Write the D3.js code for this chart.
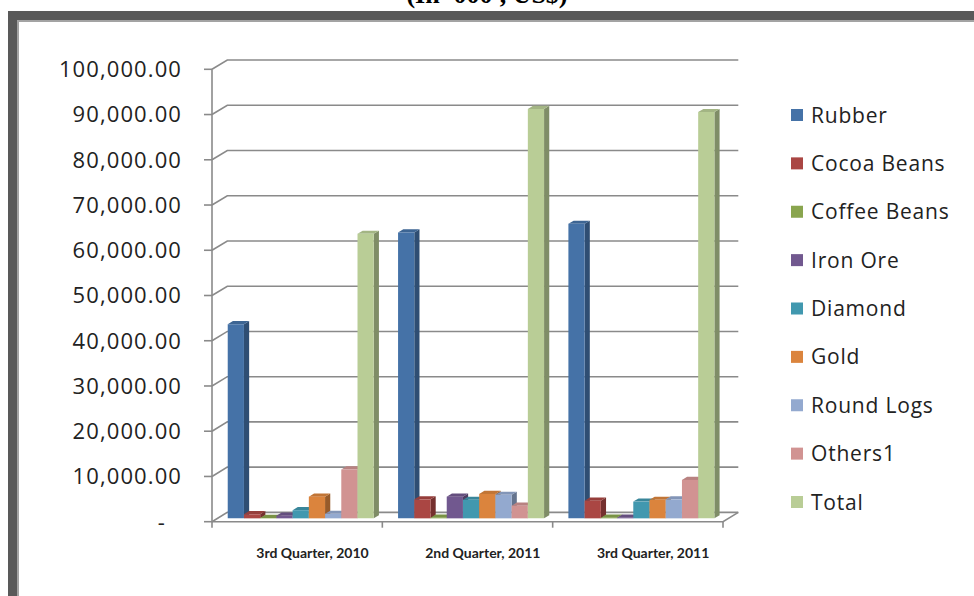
<!DOCTYPE html>
<html>
<head>
<meta charset="utf-8">
<script src="https://cdn.jsdelivr.net/npm/d3@7/dist/d3.min.js"></script>
<style>
html,body{margin:0;padding:0;background:#fff;overflow:hidden;}
svg{display:block;}
</style>
</head>
<body>
<svg id="chart" width="974" height="596"></svg>
<script>
// ---- data ----
const categories = ["3rd Quarter, 2010", "2nd Quarter, 2011", "3rd Quarter, 2011"];
const seriesNames = ["Rubber", "Cocoa Beans", "Coffee Beans", "Iron Ore", "Diamond", "Gold", "Round Logs", "Others1", "Total"];
const rubber      = [42900, 63200, 65100];
const cocoaBeans  = [900, 4200, 3900];
const coffeeBeans = [100, 150, 150];
const ironOre     = [600, 4800, 150];
const diamond     = [1800, 4100, 3700];
const gold        = [4800, 5400, 4100];
const roundLogs   = [1000, 5200, 4200];
const others1     = [10800, 2800, 8500];
const total       = [62900, 90500, 89800];
const yTicks = [0, 10000, 20000, 30000, 40000, 50000, 60000, 70000, 80000, 90000, 100000];
const titleText = "(In '000', US$)";

const seriesValues = [rubber, cocoaBeans, coffeeBeans, ironOre, diamond, gold, roundLogs, others1, total];
const colors = ["#4572A7", "#AA4643", "#89A54E", "#71588F", "#4198AF", "#DB843D", "#93A9CF", "#D19392", "#B9CD96"];

const svg = d3.select("#chart");

// ---- frame ----
svg.append("rect").attr("x", 8).attr("y", 11).attr("width", 1000).attr("height", 620).attr("fill", "#595959");
svg.append("rect").attr("x", 17).attr("y", 20).attr("width", 1000).attr("height", 620).attr("fill", "#a3a3a3");
svg.append("rect").attr("x", 19).attr("y", 22).attr("width", 1000).attr("height", 620).attr("fill", "#ffffff");

// title (cut at top)
svg.append("text").attr("x", 487).attr("y", 3)
  .attr("text-anchor", "middle")
  .attr("font-family", "Liberation Serif, serif").attr("font-weight", "bold").attr("font-size", 26)
  .attr("fill", "#000").text(titleText);

// ---- 3D geometry ----
const DX = 15.3, DY = 9.3;          // full depth offset
const zF = 0.36, zB = 0.70;         // bar depth range
const y = d3.scaleLinear().domain([0, 100000]).range([521.7, 69.3]);
const x = d3.scaleBand().domain(categories).range([212, 723]).padding(0);
const xs = d3.scaleBand().domain(seriesNames).range([0, x.bandwidth()]).paddingOuter(0.75).paddingInner(0).align(0.42);

const grid = svg.append("g").attr("fill", "none").attr("stroke", "#8a8a8a").attr("stroke-width", 1.6);
// back wall gridlines + side wall diagonals
yTicks.forEach(t => {
  const yy = y(t);
  grid.append("path").attr("d", `M${x.range()[0]},${yy}L${x.range()[0] + DX},${yy - DY}L${x.range()[1] + DX},${yy - DY}`);
});
// front vertical axis
grid.append("line").attr("x1", 212).attr("x2", 212).attr("y1", y(100000)).attr("y2", y(0));
// y ticks
yTicks.forEach(t => {
  grid.append("line").attr("x1", 204).attr("x2", 212).attr("y1", y(t)).attr("y2", y(t));
});
// floor
grid.append("path").attr("d", `M${x.range()[0]},${y(0)}L${x.range()[1]},${y(0)}L${x.range()[1] + DX},${y(0) - DY}`);
// x ticks
const xEdges = categories.map(c => x(c)).concat([x.range()[1]]);
xEdges.forEach(e => {
  grid.append("line").attr("x1", e).attr("x2", e).attr("y1", y(0)).attr("y2", y(0) + 6);
});

// y tick labels
svg.append("g").selectAll("text").data(yTicks).join("text")
  .attr("x", d => d === 0 ? 166 : 182)
  .attr("y", d => y(d))
  .attr("dy", "0.36em")
  .attr("text-anchor", "end")
  .attr("font-family", "Open Sans, sans-serif").attr("font-size", 22).attr("letter-spacing", "1.1px")
  .attr("fill", "#222")
  .text(d => d === 0 ? "-" : d3.format(",.2f")(d));

// x labels (centered on back-plane band centres)
svg.append("g").selectAll("text").data(categories).join("text")
  .attr("x", d => x(d) + x.bandwidth() / 2 + DX)
  .attr("y", 553)
  .attr("dy", "0.35em")
  .attr("text-anchor", "middle")
  .attr("font-family", "Lato, sans-serif").attr("font-weight", "bold").attr("font-size", 14)
  .attr("fill", "#222")
  .text(d => d);

// ---- bars ----
const bars = svg.append("g");
categories.forEach((cat, ci) => {
  seriesNames.forEach((s, si) => {
    const v = seriesValues[si][ci];
    const x0 = x(cat) + xs(s), x1 = x0 + xs.bandwidth();
    const yt = y(v), yb = y(0);
    const c = d3.color(colors[si]);
    const side = c.darker(1.05).formatHex();
    const top = c.darker(0.35).formatHex();
    const P = (px, py, z) => [px + z * DX, py - z * DY];
    const poly = pts => "M" + pts.map(p => p.join(",")).join("L") + "Z";
    // side face
    bars.append("path").attr("fill", side)
      .attr("d", poly([P(x1, yt, zF), P(x1, yt, zB), P(x1, yb, zB), P(x1, yb, zF)]));
    // top face
    bars.append("path").attr("fill", top)
      .attr("d", poly([P(x0, yt, zF), P(x0, yt, zB), P(x1, yt, zB), P(x1, yt, zF)]));
    // front face
    bars.append("path").attr("fill", c.formatHex())
      .attr("d", poly([P(x0, yt, zF), P(x1, yt, zF), P(x1, yb, zF), P(x0, yb, zF)]));
  });
});

// ---- legend ----
const leg = svg.append("g");
const legY = d3.scalePoint().domain(seriesNames).range([115, 502]);
seriesNames.forEach((s, i) => {
  leg.append("rect").attr("x", 791).attr("y", legY(s) - 6).attr("width", 12).attr("height", 12).attr("fill", colors[i]);
  leg.append("text").attr("x", 811).attr("y", legY(s)).attr("dy", "0.36em")
    .attr("font-family", "Open Sans, sans-serif").attr("font-size", 21).attr("letter-spacing", "0.8px")
    .attr("fill", "#222").text(s);
});
</script>
</body>
</html>
